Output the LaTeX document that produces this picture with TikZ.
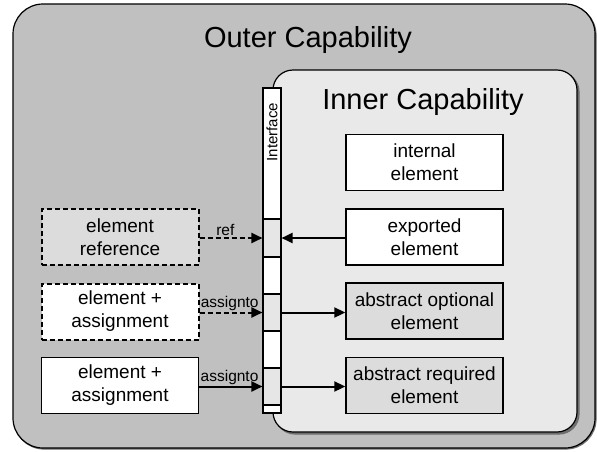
\documentclass[tikz,border=0pt]{standalone}
\usepackage{fontspec}
\setmainfont{Liberation Sans}
\usetikzlibrary{arrows.meta}
\definecolor{outerfill}{HTML}{C0C0C0}
\definecolor{innerfill}{HTML}{E9E9E9}
\definecolor{boxgray}{HTML}{DCDCDC}
\definecolor{seggray}{HTML}{E6E6E6}
\definecolor{shadowc}{HTML}{6E6E6E}
\begin{document}
\begin{tikzpicture}[x=1pt,y=-1pt,
  capab/.style={draw=black, line width=1.2pt, rounded corners=#1, inner sep=0pt},
  elembox/.style={draw=black, line width=1.4pt, minimum width=157pt, minimum height=56pt,
    align=center, inner sep=0pt, font=\fontsize{19}{23}\selectfont},
  dashbox/.style={elembox, line width=2pt, dash pattern=on 5pt off 3pt},
  seg/.style={draw=black, line width=1.1pt, minimum width=18pt, inner sep=0pt, fill=white},
  conn/.style={line width=2pt, -{Triangle[length=11pt,width=10pt]}},
  dconn/.style={conn, dash pattern=on 5pt off 3pt},
  lbl/.style={font=\fontsize{15.5}{17}\selectfont, inner sep=1pt},
  title/.style={font=\fontsize{29}{33}\selectfont}]
\useasboundingbox (0,0) rectangle (597,451);
% outer capability
\node[capab=30pt, fill=shadowc, draw=shadowc, minimum width=582pt, minimum height=444pt] at (305,227) {};
\node[capab=30pt, fill=outerfill, minimum width=582pt, minimum height=444pt] (outer) at (304,226) {};
\node[title] (outertitle) at (308,40) {Outer Capability};
% inner capability
\node[capab=20pt, fill=shadowc, draw=shadowc, minimum width=304pt, minimum height=362pt] at (427,253) {};
\node[capab=20pt, fill=innerfill, minimum width=304pt, minimum height=362pt] (inner) at (425,251) {};
\node[title] (innertitle) at (423,102) {Inner Capability};
% interface bar
\node[seg, minimum height=325pt] (iface) at (272,250.5) {};
\node[seg, minimum height=131pt] (segtop) at (272,153.5) {};
\node[rotate=90, font=\fontsize{15}{16}\selectfont, inner sep=0pt] (ifacelbl) at (272,132) {Interface};
\node[seg, fill=seggray, minimum height=38pt] (s1) at (272,238) {};
\node[seg, minimum height=37pt] (w1) at (272,275.5) {};
\node[seg, fill=seggray, minimum height=37pt] (s2) at (272,312.5) {};
\node[seg, minimum height=37pt] (w2) at (272,349.5) {};
\node[seg, fill=seggray, minimum height=37pt] (s3) at (272,386.5) {};
\node[seg, minimum height=8pt] (w3) at (272,409) {};
% inner elements
\node[elembox, fill=white] (internal) at (424.5,162.5) {internal\\element};
\node[elembox, fill=white] (exported) at (424.5,237) {exported\\element};
\node[elembox, fill=boxgray] (optional) at (424.5,311) {abstract optional\\element};
\node[elembox, fill=boxgray] (required) at (424.5,385.5) {abstract required\\element};
% outer elements
\node[dashbox, fill=boxgray] (eref) at (120,237) {element\\reference};
\node[dashbox, fill=white] (eassign1) at (120,311.5) {element +\\assignment};
\node[elembox, fill=white] (eassign2) at (120,385.5) {element +\\assignment};
% connectors
\draw[dconn] (eref.east |- s1.west) -- node[lbl, above, pos=0.41] {ref} (s1.west);
\draw[conn] (exported.west |- s1.east) -- (s1.east);
\draw[dconn] (eassign1.east |- s2.west) -- node[lbl, above, pos=0.48] {assignto} (s2.west);
\draw[conn] (s2.east) -- (optional.west |- s2.east);
\draw[conn] (eassign2.east |- s3.west) -- node[lbl, above, pos=0.48] {assignto} (s3.west);
\draw[conn] (s3.east) -- (required.west |- s3.east);
\end{tikzpicture}
\end{document}
